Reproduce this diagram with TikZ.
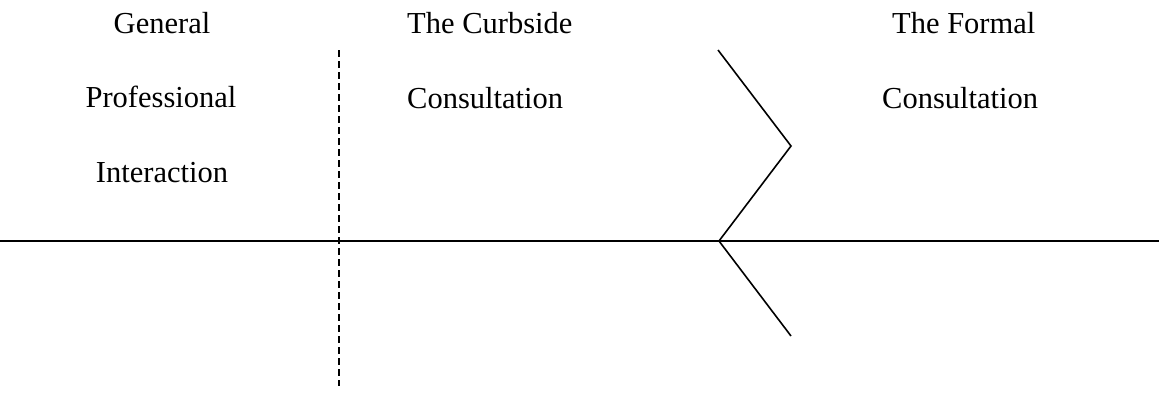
\documentclass[tikz,border=0pt]{standalone}
\usepackage{fontspec}
\setmainfont{Liberation Serif}
\begin{document}
\begin{tikzpicture}[x=1pt,y=-1pt,
  lbl/.style={inner sep=0pt,font=\fontsize{30.5}{36}\selectfont},
  lblc/.style={lbl,anchor=base},
  lbll/.style={lbl,anchor=base west},
  ln/.style={line width=1.6pt,black},
  dsh/.style={line width=1.6pt,dash pattern=on 7pt off 4pt}]
\useasboundingbox (0,0) rectangle (1159,392);
\node[lblc] (g1) at (162,33) {General};
\node[lblc] (g2) at (161,107) {Professional};
\node[lblc] (g3) at (162,182) {Interaction};
\node[lbll] (c1) at (407,33) {The Curbside};
\node[lbll] (c2) at (407,108) {Consultation};
\node[lbll] (f1) at (892,33) {The Formal};
\node[lbll] (f2) at (882,108) {Consultation};
\coordinate (hl) at (0,241);
\coordinate (hr) at (1159,241);
\coordinate (dt) at (339,50);
\coordinate (db) at (339,386);
\coordinate (zt) at (718,50);
\coordinate (za) at (791,146);
\coordinate (zj) at (719,241);
\coordinate (zb) at (791,336);
\draw[ln] (hl) -- (hr);
\draw[dsh] (dt) -- (db);
\draw[ln,line join=miter] (zt) -- (za) -- (zj) -- (zb);
\end{tikzpicture}
\end{document}
